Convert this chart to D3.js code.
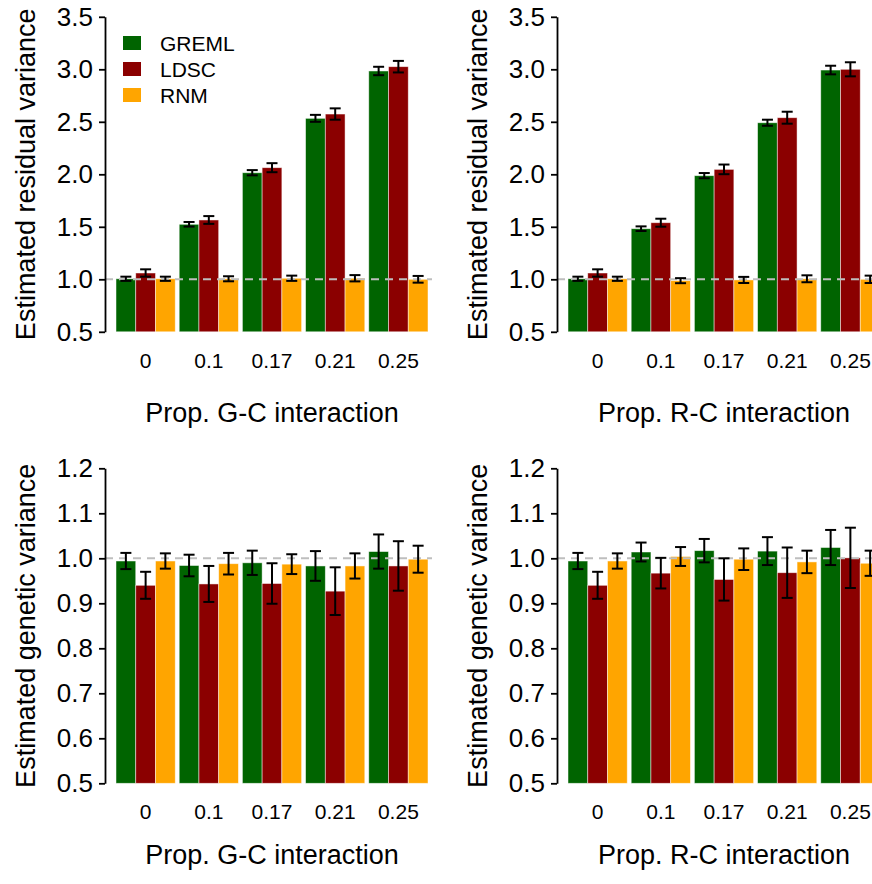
<!DOCTYPE html>
<html>
<head>
<meta charset="utf-8">
<script src="https://cdn.jsdelivr.net/npm/d3@7"></script>
<style>
body { margin: 0; background: #fff; }
svg { display: block; font-family: "Liberation Sans", Arial, Helvetica, sans-serif; }
</style>
</head>
<body>
<script>
var props = ["0", "0.1", "0.17", "0.21", "0.25"];
var methods = ["GREML", "LDSC", "RNM"];
var colors = ["#006400", "#8B0000", "#FFA500"];

// residual variance, G-C interaction
var resGC_greml = [1.005, 1.524, 2.015, 2.533, 2.984];
var resGC_ldsc  = [1.060, 1.565, 2.063, 2.574, 3.025];
var resGC_rnm   = [1.005, 1.005, 1.010, 1.010, 1.000];
var resGC_greml_se = [0.020, 0.022, 0.025, 0.033, 0.040];
var resGC_ldsc_se  = [0.035, 0.037, 0.043, 0.054, 0.055];
var resGC_rnm_se   = [0.020, 0.024, 0.025, 0.030, 0.032];

// residual variance, R-C interaction
var resRC_greml = [1.005, 1.482, 1.987, 2.491, 2.993];
var resRC_ldsc  = [1.060, 1.539, 2.047, 2.539, 3.000];
var resRC_rnm   = [1.005, 0.987, 0.994, 1.005, 1.000];
var resRC_greml_se = [0.020, 0.022, 0.025, 0.029, 0.041];
var resRC_ldsc_se  = [0.035, 0.038, 0.046, 0.057, 0.067];
var resRC_rnm_se   = [0.020, 0.024, 0.029, 0.033, 0.035];

// genetic variance, G-C interaction
var genGC_greml = [0.994, 0.984, 0.990, 0.983, 1.015];
var genGC_ldsc  = [0.940, 0.943, 0.944, 0.927, 0.983];
var genGC_rnm   = [0.994, 0.988, 0.987, 0.983, 0.998];
var genGC_greml_se = [0.018, 0.024, 0.027, 0.033, 0.038];
var genGC_ldsc_se  = [0.030, 0.040, 0.045, 0.053, 0.055];
var genGC_rnm_se   = [0.017, 0.024, 0.022, 0.028, 0.030];

// genetic variance, R-C interaction
var genRC_greml = [0.994, 1.014, 1.017, 1.016, 1.024];
var genRC_ldsc  = [0.940, 0.967, 0.953, 0.968, 1.001];
var genRC_rnm   = [0.994, 1.004, 0.998, 0.992, 0.989];
var genRC_greml_se = [0.018, 0.021, 0.026, 0.031, 0.039];
var genRC_ldsc_se  = [0.030, 0.034, 0.047, 0.056, 0.067];
var genRC_rnm_se   = [0.017, 0.021, 0.024, 0.025, 0.028];

var residTicks = [0.5, 1.0, 1.5, 2.0, 2.5, 3.0, 3.5];
var geneticTicks = [0.5, 0.6, 0.7, 0.8, 0.9, 1.0, 1.1, 1.2];

var svg = d3.select("body").append("svg")
    .attr("width", 872)
    .attr("height", 884);

function drawPanel(p) {
  var axisX = 105 + p.dx;
  var y = d3.scaleLinear().domain([p.ticks[0], p.ticks[p.ticks.length - 1]]).range(p.yRange);
  var x0 = d3.scaleBand().domain(props)
      .range([116 + p.dx, 428 + p.dx])
      .paddingInner(0.0625).paddingOuter(0);
  var x1 = d3.scaleBand().domain(methods).range([0, x0.bandwidth()]);

  var g = svg.append("g");

  var rows = [];
  props.forEach(function(c, i) {
    methods.forEach(function(m, j) {
      rows.push({cat: c, method: m, color: colors[j], v: p.vals[j][i], se: p.ses[j][i]});
    });
  });

  g.selectAll("rect.bar")
      .data(rows)
      .enter().append("rect")
      .attr("class", "bar")
      .attr("x", function(d) { return x0(d.cat) + x1(d.method); })
      .attr("width", x1.bandwidth())
      .attr("y", function(d) { return y(d.v); })
      .attr("height", function(d) { return y(p.ticks[0]) - y(d.v); })
      .attr("fill", function(d) { return d.color; })
      .attr("stroke", "#fff")
      .attr("stroke-opacity", 0.6)
      .attr("stroke-width", 0.8);

  // reference line at 1
  g.append("line")
      .attr("x1", axisX).attr("x2", axisX + 327)
      .attr("y1", y(1)).attr("y2", y(1))
      .attr("stroke", "#bebebe")
      .attr("stroke-width", 2)
      .attr("stroke-dasharray", "8,6");

  // error bars
  var eb = g.selectAll("g.err")
      .data(rows)
      .enter().append("g")
      .attr("class", "err")
      .attr("transform", function(d) {
        return "translate(" + (x0(d.cat) + x1(d.method) + x1.bandwidth() / 2) + ",0)";
      });
  eb.append("line")
      .attr("y1", function(d) { return y(d.v - d.se); })
      .attr("y2", function(d) { return y(d.v + d.se); });
  eb.append("line")
      .attr("x1", -5.5).attr("x2", 5.5)
      .attr("y1", function(d) { return y(d.v - d.se); })
      .attr("y2", function(d) { return y(d.v - d.se); });
  eb.append("line")
      .attr("x1", -5.5).attr("x2", 5.5)
      .attr("y1", function(d) { return y(d.v + d.se); })
      .attr("y2", function(d) { return y(d.v + d.se); });
  eb.selectAll("line").attr("stroke", "#000").attr("stroke-width", 2);

  // y axis
  var ya = g.append("g")
      .attr("transform", "translate(" + axisX + ",0)")
      .call(d3.axisLeft(y).tickValues(p.ticks).tickFormat(d3.format(".1f"))
        .tickSize(6).tickSizeOuter(0).tickPadding(6));
  ya.selectAll("path, line").attr("stroke", "#000").attr("stroke-width", 1.8);
  ya.selectAll("text").attr("font-size", 26).attr("fill", "#000")
      .attr("font-family", "Liberation Sans, Arial, sans-serif");

  // category labels
  var xa = g.append("g")
      .attr("transform", "translate(0," + y(p.ticks[0]) + ")")
      .call(d3.axisBottom(x0).tickSize(0).tickPadding(21));
  xa.select(".domain").remove();
  xa.selectAll("text").attr("font-size", 21).attr("fill", "#000")
      .attr("font-family", "Liberation Sans, Arial, sans-serif");

  g.append("text")
      .attr("transform", "translate(" + (35 + p.dx) + "," + ((p.yRange[0] + p.yRange[1]) / 2) + ") rotate(-90)")
      .attr("text-anchor", "middle")
      .attr("font-size", 27)
      .text(p.yTitle);

  g.append("text")
      .attr("x", 272 + p.dx)
      .attr("y", p.xTitleY)
      .attr("text-anchor", "middle")
      .attr("font-size", 27)
      .text(p.xTitle);
}

drawPanel({dx: 0, yRange: [331.8, 16.8], ticks: residTicks, xTitleY: 422,
  vals: [resGC_greml, resGC_ldsc, resGC_rnm], ses: [resGC_greml_se, resGC_ldsc_se, resGC_rnm_se],
  yTitle: "Estimated residual variance", xTitle: "Prop. G-C interaction"});
drawPanel({dx: 452, yRange: [331.8, 16.8], ticks: residTicks, xTitleY: 422,
  vals: [resRC_greml, resRC_ldsc, resRC_rnm], ses: [resRC_greml_se, resRC_ldsc_se, resRC_rnm_se],
  yTitle: "Estimated residual variance", xTitle: "Prop. R-C interaction"});
drawPanel({dx: 0, yRange: [783.3, 468.3], ticks: geneticTicks, xTitleY: 864,
  vals: [genGC_greml, genGC_ldsc, genGC_rnm], ses: [genGC_greml_se, genGC_ldsc_se, genGC_rnm_se],
  yTitle: "Estimated genetic variance", xTitle: "Prop. G-C interaction"});
drawPanel({dx: 452, yRange: [783.3, 468.3], ticks: geneticTicks, xTitleY: 864,
  vals: [genRC_greml, genRC_ldsc, genRC_rnm], ses: [genRC_greml_se, genRC_ldsc_se, genRC_rnm_se],
  yTitle: "Estimated genetic variance", xTitle: "Prop. R-C interaction"});

// legend
var legend = svg.append("g").selectAll("g")
    .data(methods)
    .enter().append("g")
    .attr("transform", function(d, i) { return "translate(123," + (43 + i * 26) + ")"; });
legend.append("rect")
    .attr("y", -7).attr("width", 18).attr("height", 14)
    .attr("fill", function(d, i) { return colors[i]; });
legend.append("text")
    .attr("x", 37).attr("dy", "0.36em")
    .attr("font-size", 21)
    .text(function(d) { return d; });
</script>
</body>
</html>
